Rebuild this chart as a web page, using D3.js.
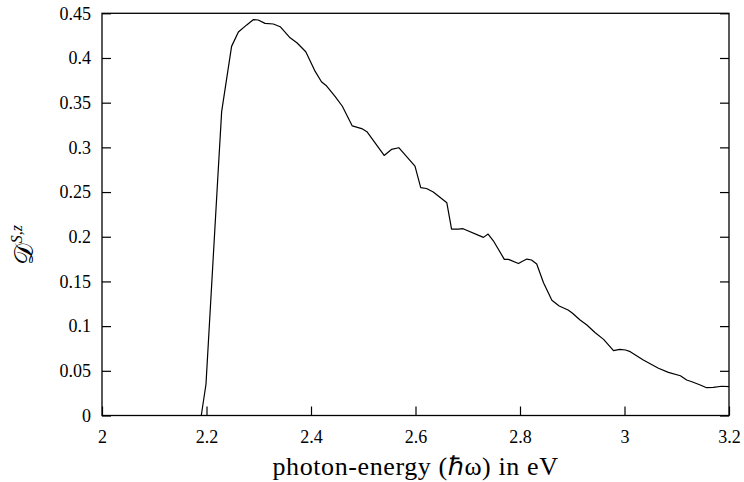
<!DOCTYPE html>
<html>
<head>
<meta charset="utf-8">
<script src="https://cdn.jsdelivr.net/npm/d3@7"></script>
<style>
  body { margin: 0; background: #fff; }
</style>
</head>
<body>
<svg id="chart"></svg>
<script>
// photon energy (eV) and D^{S,z}
const energy = [2.0, 2.19, 2.199, 2.222, 2.229, 2.248, 2.261, 2.277, 2.29, 2.299,
  2.312, 2.328, 2.341, 2.36, 2.373, 2.39, 2.408, 2.42, 2.43, 2.446,
  2.46, 2.479, 2.497, 2.507, 2.54, 2.554, 2.568, 2.599, 2.61, 2.621,
  2.634, 2.66, 2.669, 2.682, 2.691, 2.73, 2.739, 2.749, 2.77, 2.778,
  2.797, 2.803, 2.813, 2.822, 2.832, 2.845, 2.861, 2.875, 2.892, 2.9,
  2.915, 2.928, 2.944, 2.96, 2.979, 2.991, 3.002, 3.011, 3.036, 3.065,
  3.084, 3.107, 3.119, 3.129, 3.145, 3.157, 3.17, 3.186, 3.2];
const dsz = [0, 0, 0.035, 0.27, 0.34, 0.413, 0.429, 0.437, 0.443, 0.4425,
  0.4387, 0.438, 0.435, 0.4226, 0.417, 0.407, 0.385, 0.3734, 0.3686, 0.357,
  0.346, 0.324, 0.321, 0.3175, 0.291, 0.2977, 0.2996, 0.279, 0.255, 0.254,
  0.25, 0.238, 0.2086, 0.2086, 0.209, 0.1993, 0.203, 0.1955, 0.1747, 0.1747,
  0.17, 0.172, 0.175, 0.174, 0.1695, 0.1486, 0.129, 0.1225, 0.118, 0.1146,
  0.1068, 0.1012, 0.0926, 0.0852, 0.0725, 0.074, 0.0733, 0.0714, 0.062, 0.0528,
  0.0483, 0.0445, 0.0397, 0.0378, 0.0341, 0.0311, 0.0315, 0.0327, 0.0322];

const xTicks = [2, 2.2, 2.4, 2.6, 2.8, 3, 3.2];
const xTickLabels = ["2", "2.2", "2.4", "2.6", "2.8", "3", "3.2"];
const yTicks = [0, 0.05, 0.1, 0.15, 0.2, 0.25, 0.3, 0.35, 0.4, 0.45];
const yTickLabels = ["0", "0.05", "0.1", "0.15", "0.2", "0.25", "0.3", "0.35", "0.4", "0.45"];

const width = 744, height = 482;
const margin = { top: 13.3, right: 15, bottom: 66.5, left: 102 };
const w = width - margin.left - margin.right;
const h = height - margin.top - margin.bottom;
const serif = "Liberation Serif";

const svg = d3.select("#chart")
  .attr("width", width)
  .attr("height", height)
  .attr("font-family", serif);

const g = svg.append("g")
  .attr("transform", "translate(" + margin.left + "," + margin.top + ")");

const x = d3.scaleLinear().domain([2, 3.2]).range([0, w]);
const y = d3.scaleLinear().domain([0, 0.45]).range([h, 0]);

// axes, ticks pointing inward
const xAxis = g.append("g")
  .attr("transform", "translate(0," + h + ")")
  .call(d3.axisBottom(x).tickValues(xTicks)
    .tickFormat((d, i) => xTickLabels[i])
    .tickSize(-9).tickPadding(15));

const yAxis = g.append("g")
  .call(d3.axisLeft(y).tickValues(yTicks)
    .tickFormat((d, i) => yTickLabels[i])
    .tickSize(-9).tickPadding(11));

const yRight = g.append("g")
  .attr("transform", "translate(" + w + ",0)")
  .call(d3.axisRight(y).tickValues(yTicks).tickFormat("").tickSize(-9));

[xAxis, yAxis, yRight].forEach(a => {
  a.attr("font-family", serif).attr("font-size", 18);
  a.select(".domain").remove();
  a.selectAll("line").attr("stroke", "#000").attr("stroke-width", 1.2);
  a.selectAll("text").attr("font-family", serif).attr("fill", "#000");
});

// frame
g.append("rect")
  .attr("x", 0).attr("y", 0)
  .attr("width", w).attr("height", h)
  .attr("fill", "none")
  .attr("stroke", "#000")
  .attr("stroke-width", 1.3);

// curve
const line = d3.line()
  .x((d, i) => x(energy[i]))
  .y(d => y(d));

g.append("path")
  .datum(dsz)
  .attr("d", line)
  .attr("fill", "none")
  .attr("stroke", "#000")
  .attr("stroke-width", 1.2)
  .attr("stroke-linejoin", "round");

// axis titles
svg.append("text")
  .attr("x", margin.left + w / 2)
  .attr("y", 475)
  .attr("text-anchor", "middle")
  .attr("font-family", serif)
  .attr("font-size", 26)
  .attr("letter-spacing", 0.6)
  .text("photon-energy (ℏω) in eV");

const yl = svg.append("text")
  .attr("transform", "translate(33,245) rotate(-90)")
  .attr("text-anchor", "middle")
  .attr("font-family", serif);
yl.append("tspan")
  .attr("font-size", 27)
  .text("𝒟");
yl.append("tspan")
  .attr("dy", -11)
  .attr("font-size", 16)
  .attr("font-style", "italic")
  .text("S,z");
</script>
</body>
</html>
